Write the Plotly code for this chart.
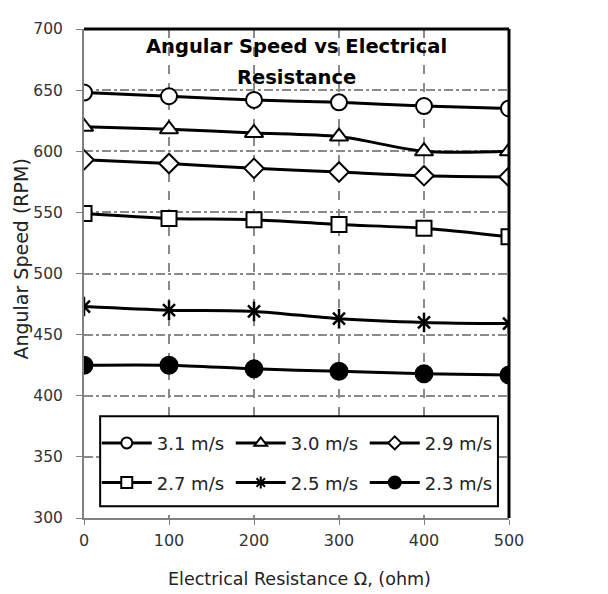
import plotly.graph_objects as go

resistance = [0, 100, 200, 300, 400, 500]
series_names = ["3.1 m/s", "3.0 m/s", "2.9 m/s", "2.7 m/s", "2.5 m/s", "2.3 m/s"]
v31 = [648, 645, 642, 640, 637, 635]
v30 = [620, 618, 615, 612, 600, 600]
v29 = [593, 590, 586, 583, 580, 579]
v27 = [549, 545, 544, 540, 537, 530]
v25 = [473, 470, 469, 463, 460, 459]
v23 = [425, 425, 422, 420, 418, 417]
series_values = [v31, v30, v29, v27, v25, v23]
y_ticks = [300, 350, 400, 450, 500, 550, 600, 650, 700]
x_ticks = [0, 100, 200, 300, 400, 500]

symbols = ["circle", "triangle-up", "diamond", "square", "x-thin-open", "circle"]
legend_symbols = ["circle", "triangle-up", "diamond", "square", "asterisk-open", "circle"]
fills = ["white", "white", "white", "white", "black", "black"]
sizes = [16, 16, 15, 15, 12, 17]
legend_sizes = [11, 11, 10, 11, 10, 12]
legend_ids = ["legend", "legend", "legend", "legend2", "legend2", "legend2"]

FONT = "DejaVu Sans"

fig = go.Figure()
for name, vals, sym, fc, sz in zip(series_names, series_values, symbols, fills, sizes):
    fig.add_trace(go.Scatter(
        x=resistance, y=vals, name=name, mode="lines+markers", showlegend=False,
        line=dict(color="black", width=3, shape="spline", smoothing=0.8),
        marker=dict(symbol=sym, size=sz, color=fc,
                    line=dict(color="black", width=2 if sym != "x-thin-open" else 2.5)),
    ))
    if sym == "x-thin-open":
        # vertical bar to complete the star marker
        fig.add_trace(go.Scatter(
            x=resistance, y=vals, mode="markers", showlegend=False, hoverinfo="skip",
            marker=dict(symbol="line-ns-open", size=sz + 2, color="black",
                        line=dict(color="black", width=2.5)),
        ))

# legend entries (no data points drawn)
for name, sym, fc, lsz, lid in zip(series_names, legend_symbols, fills, legend_sizes, legend_ids):
    fig.add_trace(go.Scatter(
        x=[None], y=[None], name=name, mode="lines+markers", legend=lid,
        line=dict(color="black", width=3),
        marker=dict(symbol=sym, size=lsz, color=fc, line=dict(color="black", width=2)),
    ))

legend_common = dict(
    orientation="h", xanchor="left", yanchor="middle",
    bgcolor="rgba(0,0,0,0)", borderwidth=0,
    font=dict(size=18, color="#222222", family=FONT),
    entrywidth=69, entrywidthmode="pixels", itemwidth=50,
)

fig.update_layout(
    width=608, height=594,
    margin=dict(l=76, r=107, t=19, b=84),
    paper_bgcolor="white", plot_bgcolor="white",
    font=dict(family=FONT, color="#222222"),
    showlegend=True,
    legend=dict(x=0.03, y=0.153, **legend_common),
    legend2=dict(x=0.03, y=0.072, **legend_common),
)
fig.update_xaxes(
    range=[0, 500], tickvals=x_ticks, showgrid=True, gridcolor="#8a8a8a",
    griddash="dash", gridwidth=1.5, showline=True, linecolor="#808080", linewidth=2,
    ticks="outside", ticklen=5, tickcolor="#808080", zeroline=False,
    tickfont=dict(size=16, color="#333333"), ticklabelstandoff=2,
)
fig.update_yaxes(
    range=[300, 700], tickvals=y_ticks, showgrid=True, gridcolor="#8a8a8a",
    griddash="dashdot", gridwidth=1.5, showline=True, linecolor="#808080", linewidth=2,
    ticks="outside", ticklen=6, tickcolor="#808080", zeroline=False,
    tickfont=dict(size=15.5, color="#333333"), ticklabelstandoff=10,
)
# top and right black border
fig.add_shape(type="line", xref="x domain", yref="y domain", x0=0, x1=1, y0=1, y1=1,
              line=dict(color="black", width=3))
fig.add_shape(type="line", xref="x domain", yref="y domain", x0=1, x1=1, y0=0, y1=1,
              line=dict(color="black", width=3))
# legend box
fig.add_shape(type="rect", xref="x domain", yref="y domain", x0=0.038, x1=0.974, y0=0.024, y1=0.208,
              line=dict(color="black", width=2), fillcolor="white", layer="above")

# chart title (two lines)
fig.add_annotation(text="<b>Angular Speed vs Electrical</b>", xref="paper", yref="paper",
                   x=0.5, y=0.965, xanchor="center", yanchor="middle", showarrow=False,
                   font=dict(size=19.5, color="black", family=FONT))
fig.add_annotation(text="<b>Resistance</b>", xref="paper", yref="paper",
                   x=0.5, y=0.900, xanchor="center", yanchor="middle", showarrow=False,
                   font=dict(size=19.5, color="black", family=FONT))
# axis titles
fig.add_annotation(text="Electrical Resistance Ω, (ohm)", xref="paper", yref="paper",
                   x=0.508, y=-0.124, xanchor="center", yanchor="middle", showarrow=False,
                   font=dict(size=17.5, color="#222222", family=FONT))
fig.add_annotation(text="Angular Speed (RPM)", xref="paper", yref="paper", textangle=-90,
                   x=-0.147, y=0.5295, xanchor="center", yanchor="middle", showarrow=False,
                   font=dict(size=19, color="#222222", family=FONT))

fig.write_html("out.html")
